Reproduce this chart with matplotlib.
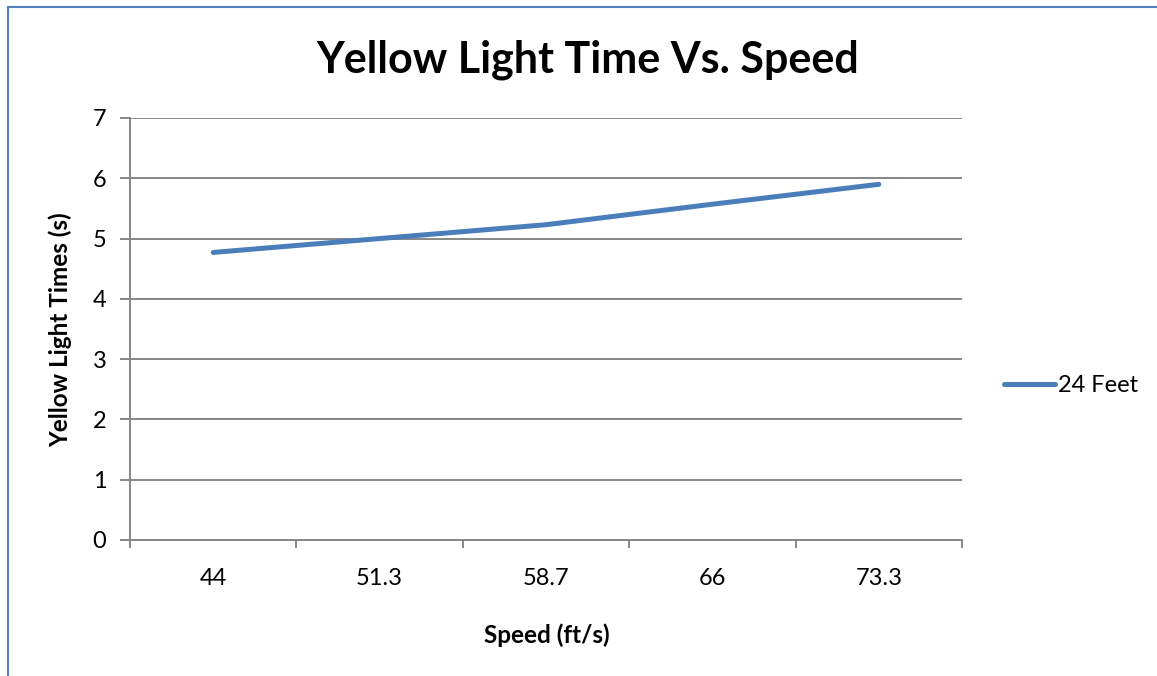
import matplotlib
matplotlib.use("Agg")
import matplotlib.pyplot as plt
from matplotlib.lines import Line2D

speeds = ["44", "51.3", "58.7", "66", "73.3"]
times_24ft = [4.77, 5.0, 5.23, 5.57, 5.9]
y_ticks = [0, 1, 2, 3, 4, 5, 6, 7]

plt.rcParams['font.family'] = ['Lato', 'DejaVu Sans']

fig = plt.figure(figsize=(11.57, 6.76), dpi=100)
ax = fig.add_axes([130/1157, 1-540/676, (962-130)/1157, (540-118)/676])

grid_col = "#868686"
x = list(range(len(speeds)))
for v in y_ticks[1:]:
    ax.axhline(v, color=grid_col, lw=1.4, zorder=1)
ax.plot(x, times_24ft, color="#4a7ebb", lw=3.6, solid_capstyle="round", label="24 Feet", zorder=3)

ax.set_xlim(-0.5, len(speeds) - 0.5)
ax.set_ylim(0, 7)
ax.set_yticks(y_ticks)
ax.set_xticks([i - 0.5 for i in range(len(speeds) + 1)])
ax.set_xticklabels([])
ax.set_xticks(x, minor=True)
ax.set_xticklabels(speeds, minor=True)
ax.tick_params(axis="x", which="major", length=6, width=1.4, color=grid_col)
ax.tick_params(axis="x", which="minor", length=0, pad=20, labelsize=17)
ax.tick_params(axis="y", length=7, width=1.4, color=grid_col, pad=10, labelsize=17)

for side in ["top", "right"]:
    ax.spines[side].set_visible(False)
for side in ["left", "bottom"]:
    ax.spines[side].set_color(grid_col)
    ax.spines[side].set_linewidth(1.4)

fig.text(0.508, 1-60/676, "Yellow Light Time Vs. Speed", ha="center", va="center",
         fontsize=31, fontweight="bold")
fig.text(60/1157, 1-330/676, "Yellow Light Times (s)", ha="center", va="center",
         rotation=90, fontsize=17.5, fontweight="bold")
fig.text(547/1157, 1-635/676, "Speed (ft/s)", ha="center", va="center",
         fontsize=17.5, fontweight="bold")

ax.legend(loc="center left", bbox_to_anchor=(995/1157, 1-386/676), bbox_transform=fig.transFigure,
          frameon=False, fontsize=17, handlelength=2.15, handletextpad=0.1, borderaxespad=0)

# chart border (blue) on left and top
fig.add_artist(Line2D([8/1157, 8/1157], [0, 1-7/676], transform=fig.transFigure, color="#4f81bd", lw=1.5))
fig.add_artist(Line2D([8/1157, 1], [1-7/676, 1-7/676], transform=fig.transFigure, color="#4f81bd", lw=1.5))

fig.savefig("out.png", dpi=100)
